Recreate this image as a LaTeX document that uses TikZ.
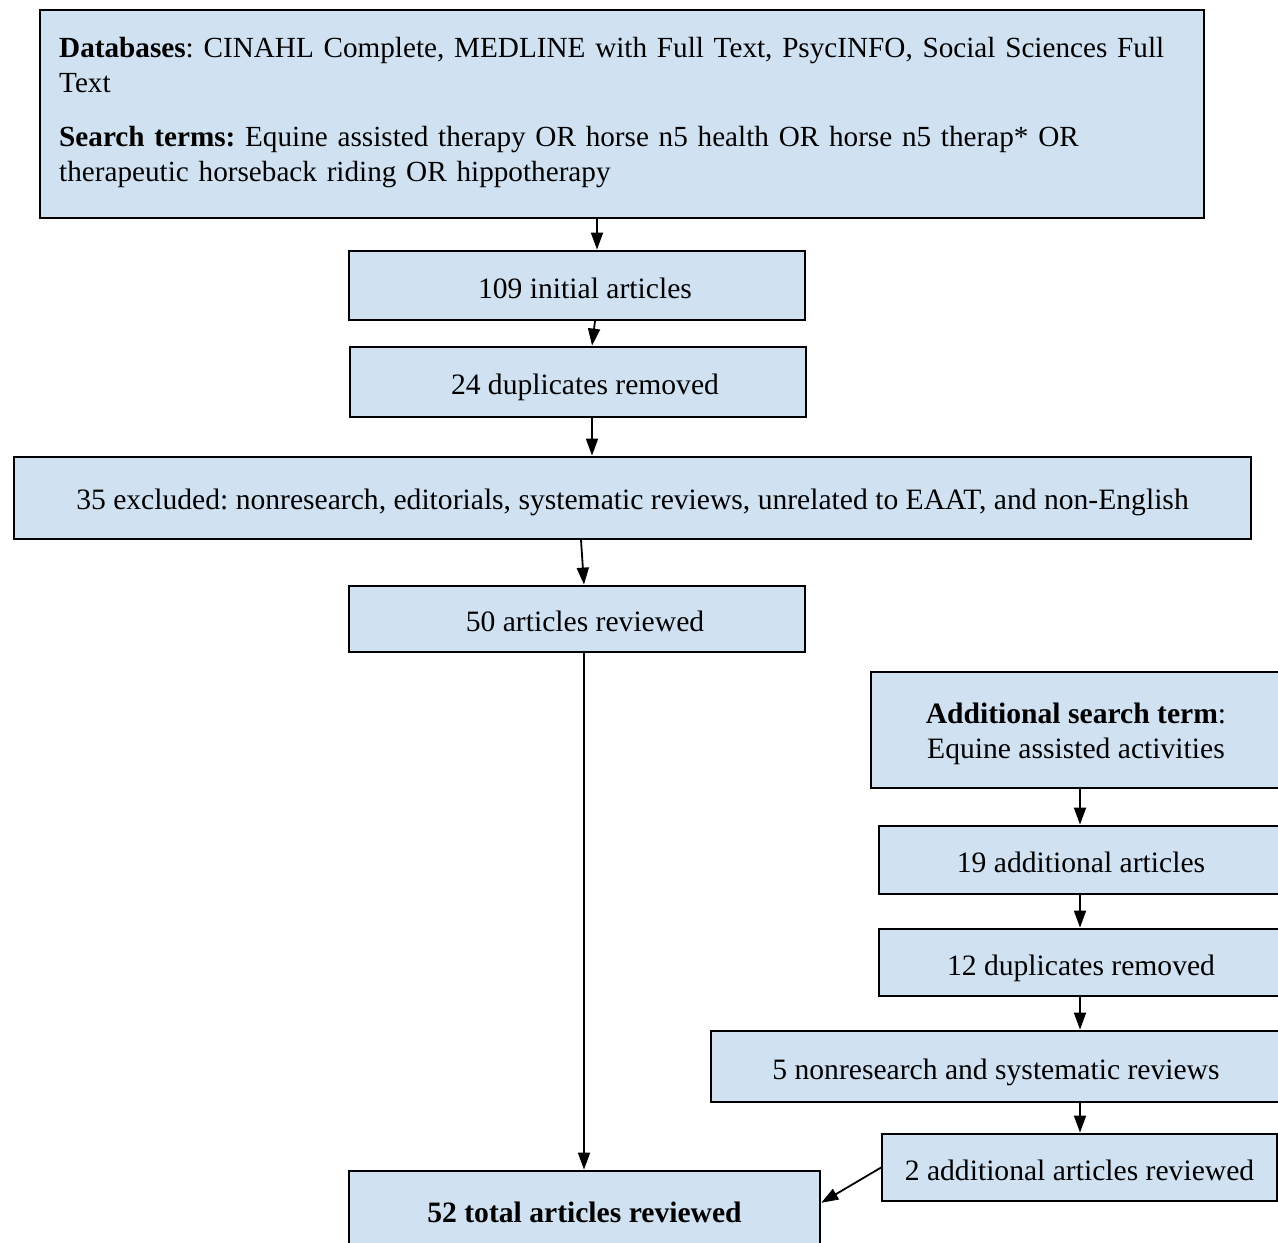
\documentclass[tikz,border=0pt]{standalone}
\usepackage{fontspec}
\setmainfont{Liberation Serif}
\usetikzlibrary{arrows.meta}
\definecolor{boxfill}{RGB}{208,225,241}
\tikzset{
  box/.style={draw=black, fill=boxfill, line width=1.8pt, inner sep=0pt, align=center},
  oneline/.style={text height=25pt, text depth=0pt},
  arr/.style={line width=1.8pt, -{Triangle[length=17pt,width=12pt]}, shorten >=0.5pt}
}
\begin{document}
\frenchspacing
\begin{tikzpicture}[x=1pt,y=-1pt,font=\fontsize{29.6}{35.5}\selectfont\frenchspacing]
\useasboundingbox (0,0) rectangle (1278,1243);
\fill[white] (0,0) rectangle (1278,1243);
\clip (0,0) rectangle (1278,1243);

\node[box, minimum width=1164pt, minimum height=208pt] (top) at (622,114) {};
\node[align=left, text width=1126pt, inner sep=0pt, anchor=north west,
      font=\fontsize{29.2}{35.3}\selectfont\frenchspacing] (toptext) at (59,37)
  {\textbf{Databases}: CINAHL Complete, MEDLINE with Full Text, PsycINFO, Social Sciences Full\\
   Text\\[18pt]
   \textbf{Search terms:} Equine assisted therapy OR horse n5 health OR horse n5 therap* OR\\
   therapeutic horseback riding OR hippotherapy};

\node[box, oneline, minimum width=456pt, minimum height=69pt] (b2) at (577,285.5) {\hspace*{16pt}109 initial articles};
\node[box, oneline, minimum width=456pt, minimum height=70pt] (b3) at (578,382) {\hspace*{14pt}24 duplicates removed};
\node[box, text height=22pt, text depth=0pt, minimum width=1237pt, minimum height=82pt] (b4) at (632.5,498) {35 excluded: nonresearch, editorials, systematic reviews, unrelated to EAAT, and non-English};
\node[box, oneline, minimum width=456pt, minimum height=66pt] (b5) at (577,619) {\hspace*{16pt}50 articles reviewed};
\node[box, minimum width=410pt, minimum height=116pt] (b6) at (1076,730) {\rule{0pt}{28pt}\textbf{Additional search term}:\\Equine assisted activities};
\node[box, oneline, minimum width=404pt, minimum height=68pt] (b7) at (1081,860) {19 additional articles};
\node[box, oneline, minimum width=404pt, minimum height=67pt] (b8) at (1081,962.5) {12 duplicates removed};
\node[box, oneline, minimum width=570pt, minimum height=71pt] (b9) at (996,1066.5) {5 nonresearch and systematic reviews};
\node[box, oneline, minimum width=395pt, minimum height=67pt] (b10) at (1079.5,1167.5) {2 additional articles reviewed};
\node[box, oneline, minimum width=471pt, minimum height=78pt] (b11) at (584.5,1210) {\textbf{52 total articles reviewed}};

\draw[arr] (top.south -| 597,0) -- (b2.north -| 597,0);
\draw[arr] (b2.south -| 595,0) -- (b3.north -| 592,0);
\draw[arr] (b3.south -| 592,0) -- (b4.north -| 592,0);
\draw[arr] (b4.south -| 581,0) -- (b5.north -| 584,0);
\draw[arr] (b5.south -| 584,0) -- (b11.north -| 584,0);
\draw[arr] (b6.south -| 1080,0) -- (b7.north -| 1080,0);
\draw[arr] (b7.south -| 1080,0) -- (b8.north -| 1080,0);
\draw[arr] (b8.south -| 1080,0) -- (b9.north -| 1080,0);
\draw[arr] (b9.south -| 1080,0) -- (b10.north -| 1080,0);
\draw[arr] (b10.west) -- (b11.east |- 0,1203);
\end{tikzpicture}
\end{document}
